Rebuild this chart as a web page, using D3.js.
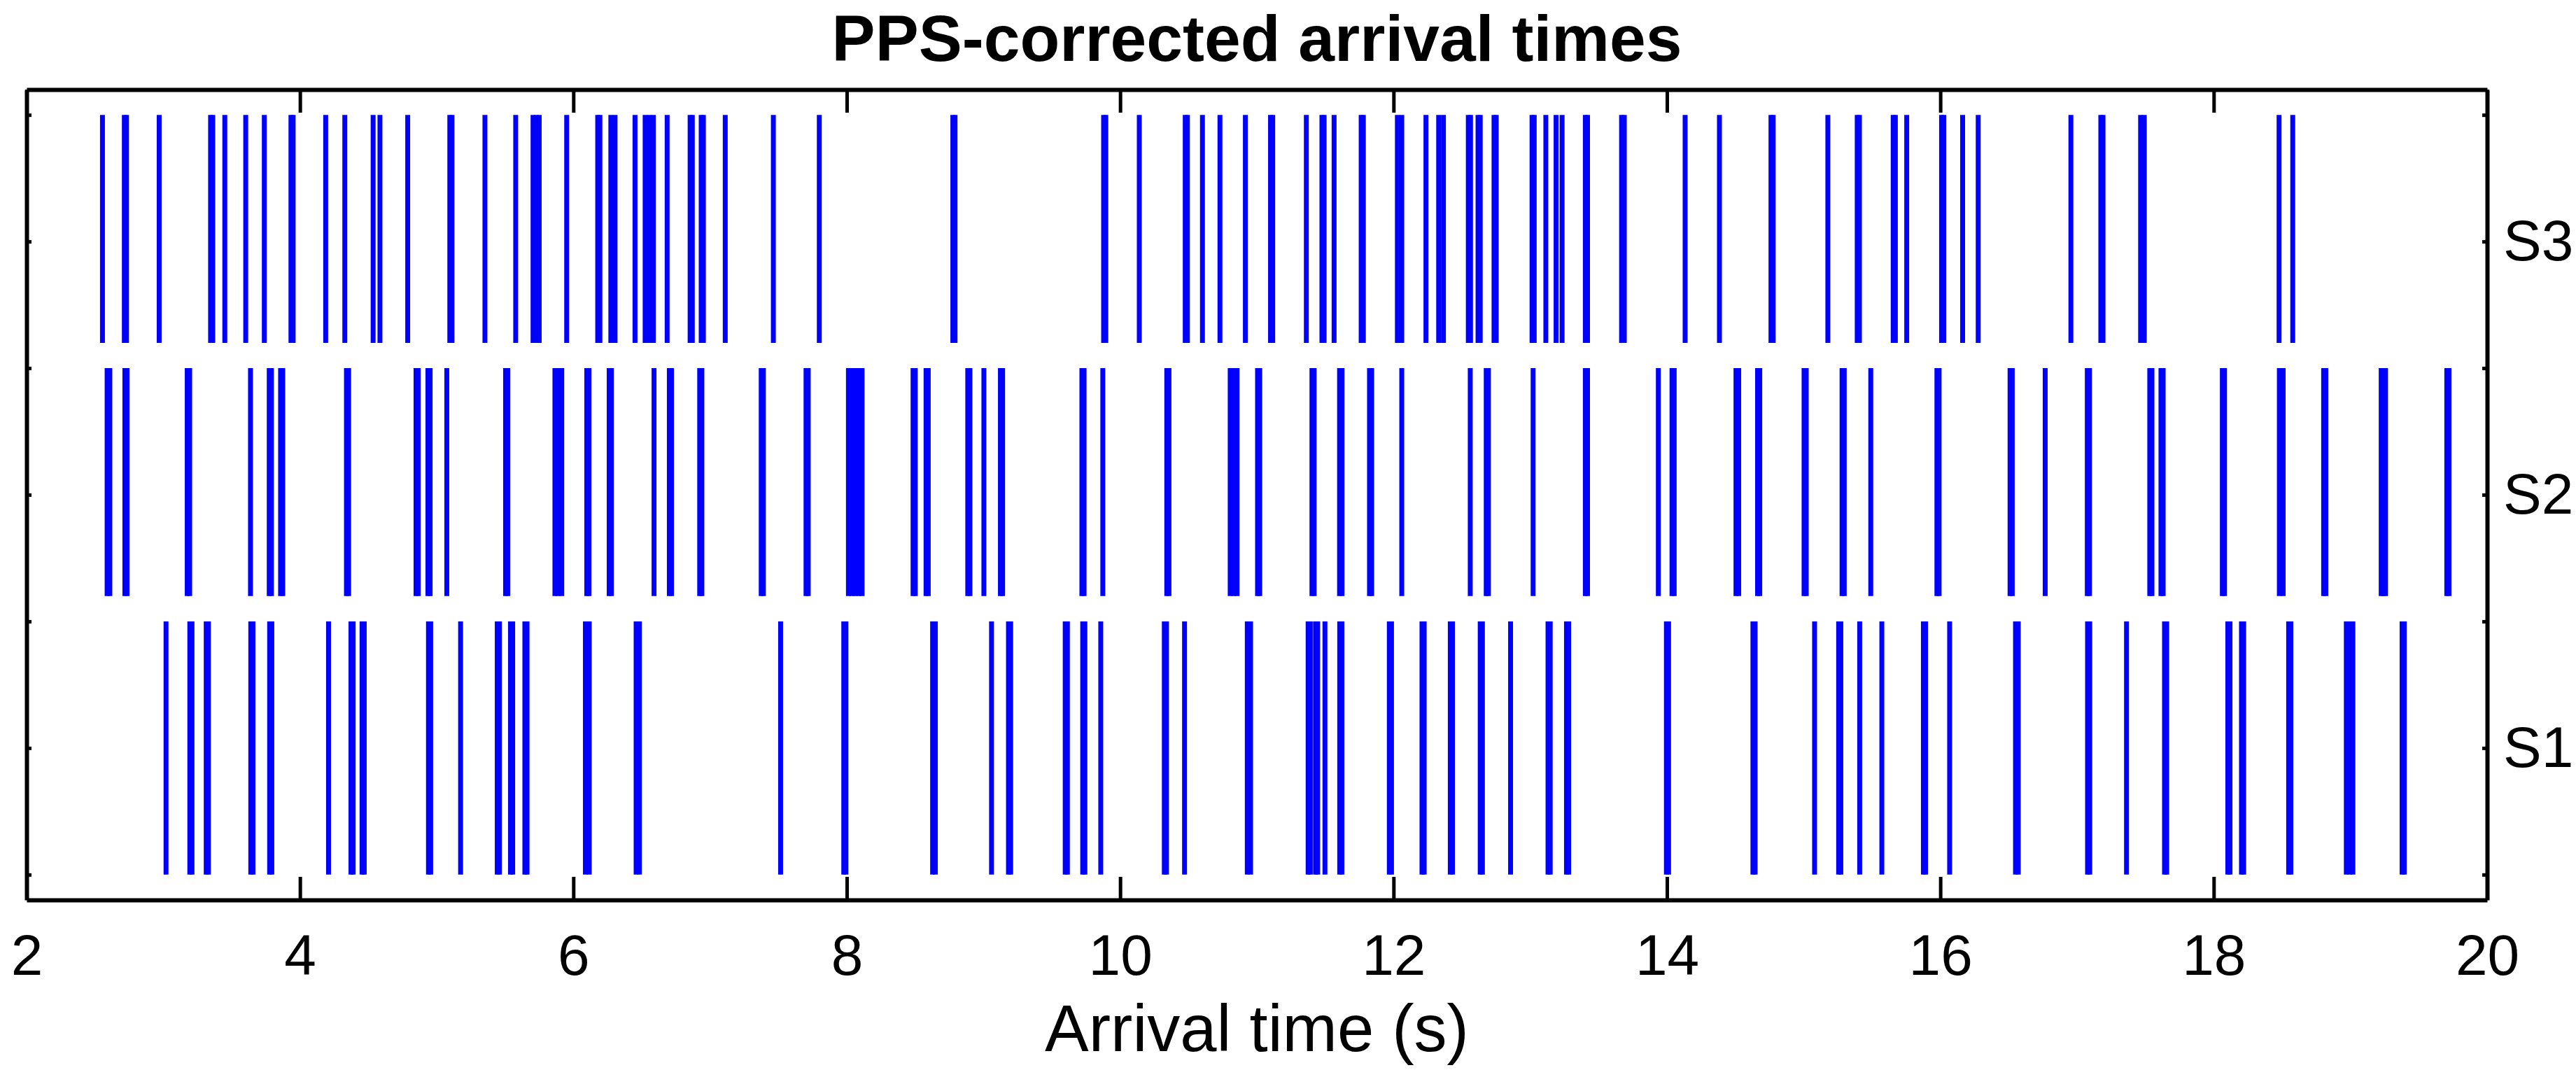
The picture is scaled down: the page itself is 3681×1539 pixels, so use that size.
<!DOCTYPE html>
<html>
<head>
<meta charset="utf-8">
<script src="https://cdn.jsdelivr.net/npm/d3@7/dist/d3.min.js"></script>
<style>
  html, body { margin: 0; padding: 0; background: #fff; }
  svg { display: block; }
</style>
</head>
<body>
<svg id="chart" width="3681" height="1539"></svg>
<script>
// ---------------- DATA ----------------
const title = "PPS-corrected arrival times";
const xLabel = "Arrival time (s)";
const rowLabels = ["S1", "S2", "S3"];
const xTicks = [2, 4, 6, 8, 10, 12, 14, 16, 18, 20];
const yTicks = [0.5, 1, 1.5, 2, 2.5, 3, 3.5];

// arrival times (s) per station
const s1Times = [
  3.020, 3.194, 3.210, 3.314, 3.330, 3.640, 3.656, 3.778, 3.794, 4.209,
  4.373, 4.389, 4.454, 4.470, 4.940, 4.956, 5.175, 5.443, 5.459, 5.540,
  5.556, 5.645, 5.661, 6.088, 6.116, 6.459, 6.483, 7.516, 7.978, 7.994,
  8.628, 8.648, 9.059, 9.183, 9.199, 9.598, 9.614, 9.726, 9.742, 9.858,
  10.323, 10.339, 10.471, 10.930, 10.954, 11.375, 11.391, 11.429, 11.445, 11.498,
  11.606, 11.622, 11.969, 11.985, 12.208, 12.224, 12.415, 12.431, 12.634, 12.650,
  12.856, 13.130, 13.146, 13.265, 13.281, 13.996, 14.012, 14.629, 14.645, 15.080,
  15.256, 15.272, 15.410, 15.572, 15.876, 15.892, 16.068, 16.550, 16.570, 17.077,
  17.093, 17.362, 17.640, 17.656, 18.103, 18.119, 18.203, 18.219, 18.548, 18.564,
  18.970, 18.994, 19.018, 19.378, 19.394
];
const s2Times = [
  2.589, 2.609, 2.719, 2.735, 3.175, 3.193, 3.638, 3.775, 3.791, 3.858,
  3.874, 4.340, 4.356, 4.849, 4.865, 4.936, 4.952, 5.074, 5.504, 5.520,
  5.865, 5.890, 5.915, 6.098, 6.114, 6.262, 6.278, 6.590, 6.702, 6.718,
  6.924, 6.940, 7.374, 7.390, 7.702, 7.718, 8.012, 8.037, 8.062, 8.087,
  8.112, 8.485, 8.501, 8.580, 8.596, 8.885, 8.901, 9.003, 9.124, 9.140,
  9.720, 9.736, 9.873, 10.341, 10.357, 10.805, 10.830, 10.855, 11.005, 11.021,
  11.403, 11.419, 11.605, 11.623, 11.824, 11.840, 12.060, 12.561, 12.678, 12.694,
  13.021, 13.403, 13.419, 13.937, 14.037, 14.053, 14.505, 14.525, 14.663, 14.679,
  15.003, 15.019, 15.281, 15.297, 15.491, 15.975, 15.991, 16.510, 16.526, 16.767,
  17.075, 17.091, 17.532, 17.548, 17.614, 17.630, 18.063, 18.079, 18.480, 18.508,
  18.804, 18.820, 19.225, 19.241, 19.257, 19.705, 19.721
];
const s3Times = [
  2.555, 2.715, 2.731, 2.970, 3.346, 3.362, 3.450, 3.603, 3.739, 3.934,
  3.950, 4.188, 4.328, 4.535, 4.585, 4.788, 5.096, 5.112, 5.353, 5.578,
  5.705, 5.728, 5.750, 5.951, 6.178, 6.194, 6.274, 6.305, 6.451, 6.525,
  6.555, 6.585, 6.686, 6.854, 6.870, 6.935, 6.951, 7.111, 7.463, 7.799,
  8.776, 8.792, 9.879, 9.895, 10.140, 10.476, 10.492, 10.602, 10.730, 10.916,
  11.100, 11.116, 11.362, 11.476, 11.492, 11.565, 11.763, 11.779, 12.028, 12.060,
  12.237, 12.330, 12.365, 12.547, 12.563, 12.618, 12.634, 12.735, 12.751, 13.013,
  13.029, 13.114, 13.189, 13.233, 13.403, 13.419, 13.668, 13.688, 14.133, 14.384,
  14.761, 14.777, 15.177, 15.392, 15.408, 15.655, 15.671, 15.754, 16.009, 16.025,
  16.163, 16.277, 16.955, 17.174, 17.190, 17.465, 17.492, 18.478, 18.578
];
// vertical extent of each row's spikes (y units)
const rowSpans = [[0.5, 1.5], [1.6, 2.5], [2.6, 3.5]];

// ---------------- CHART ----------------
(function () {
  const svg = d3.select("#chart");
  const mLeft = 38, mRight = 3554, mTop = 128, mBottom = 1286;
  const x = d3.scaleLinear().domain([2, 20]).range([mLeft, mRight]);
  const y = d3.scaleLinear().domain([0.4, 3.6]).range([mBottom, mTop]);
  const font = "'Liberation Sans', Arial, Helvetica, sans-serif";

  const rows = [s1Times, s2Times, s3Times];
  const spikes = [];
  rows.forEach((times, i) => times.forEach(t => spikes.push({ t, r: i })));

  svg.append("g").selectAll("line").data(spikes).join("line")
    .attr("x1", d => x(d.t)).attr("x2", d => x(d.t))
    .attr("y1", d => y(rowSpans[d.r][0])).attr("y2", d => y(rowSpans[d.r][1]))
    .attr("stroke", "#0000ff").attr("stroke-width", 7);

  function styleAxis(g) {
    g.selectAll("path.domain").attr("stroke", "#000").attr("stroke-width", 6);
    g.selectAll(".tick line").attr("stroke", "#000").attr("stroke-width", 5);
    g.selectAll(".tick text").attr("fill", "#000").attr("font-family", font).attr("font-size", 82);
  }

  svg.append("g").attr("transform", `translate(0,${mBottom})`)
    .call(d3.axisBottom(x).tickValues(xTicks).tickFormat(d3.format("d")).tickSize(-33).tickSizeOuter(0).tickPadding(49))
    .call(styleAxis);
  svg.append("g").attr("transform", `translate(0,${mTop})`)
    .call(d3.axisTop(x).tickValues(xTicks).tickFormat("").tickSize(-33).tickSizeOuter(0))
    .call(styleAxis);
  svg.append("g").attr("transform", `translate(${mLeft},0)`)
    .call(d3.axisLeft(y).tickValues(yTicks).tickFormat("").tickSize(-7).tickSizeOuter(0))
    .call(styleAxis);
  svg.append("g").attr("transform", `translate(${mRight},0)`)
    .call(d3.axisRight(y).tickValues(yTicks)
      .tickFormat(d => Number.isInteger(d) ? rowLabels[d - 1] : "")
      .tickSize(-7).tickSizeOuter(0).tickPadding(23))
    .call(styleAxis);

  svg.append("text").attr("x", (mLeft + mRight) / 2).attr("y", 87)
    .attr("text-anchor", "middle").attr("font-family", font).attr("font-weight", "bold")
    .attr("font-size", 93).attr("fill", "#000").text(title);
  svg.append("text").attr("x", (mLeft + mRight) / 2).attr("y", 1502)
    .attr("text-anchor", "middle").attr("font-family", font)
    .attr("font-size", 94).attr("fill", "#000").text(xLabel);
})();
</script>
</body>
</html>
